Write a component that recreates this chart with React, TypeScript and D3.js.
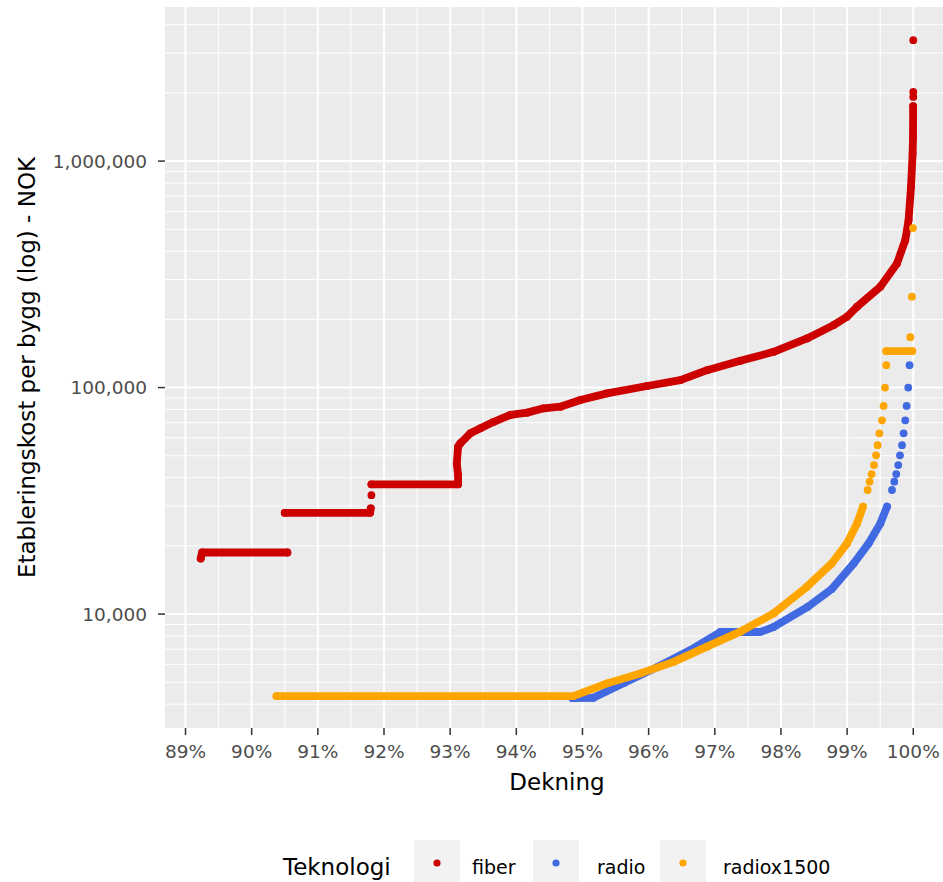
import { useMemo } from 'react';
import * as d3 from 'd3';

// coverage (%) vs. cost per building (NOK)
// each inner array is one unbroken run of points
const fiberRuns: [number, number][][] = [
  [[89.23, 17600], [89.25, 18700], [90.54, 18700]],
  [[90.5, 28000], [91.79, 28000], [91.8, 29300]],
  [[91.81, 33500]],
  [
    [91.81, 37400], [93.12, 37400], [93.12, 41100], [93.1, 46200], [93.12, 54800],
    [93.155, 56800], [93.306, 62800], [93.457, 66100], [93.659, 70600], [93.911, 75700],
    [94.163, 77500], [94.414, 81000], [94.666, 82300], [94.968, 88100], [95.372, 94300],
    [95.976, 101600], [96.48, 107900], [96.883, 119400], [97.386, 131300], [97.889, 143800],
    [98.394, 164800], [98.796, 188700], [98.998, 205600], [99.15, 227400], [99.502, 278800],
    [99.754, 353000], [99.879, 447600], [99.929, 549000], [99.966, 771000], [99.99, 1080000],
    [99.996, 1280000], [99.998, 1750000],
  ],
  [[100, 1920000]],
  [[100, 2020000]],
  [[100, 3420000]],
];

const radioRuns: [number, number][][] = [
  [
    [94.848, 4256], [95.165, 4270], [95.618, 4955], [96.132, 5836], [96.631, 6934],
    [97.084, 8335], [97.689, 8335], [97.885, 8763], [98.399, 10740], [98.767, 12890],
    [99.098, 16700], [99.325, 20500], [99.502, 25100], [99.603, 29800],
  ],
  [[99.678, 35300]], [[99.713, 38400]], [[99.743, 41500]], [[99.773, 45500]],
  [[99.799, 50200]], [[99.83, 55700]], [[99.854, 62800]], [[99.879, 71700]],
  [[99.899, 83000]], [[99.924, 100000]], [[99.944, 125600]],
];

const radiox1500Runs: [number, number][][] = [
  [
    [90.375, 4345], [94.86, 4345], [95.372, 4943], [95.875, 5470], [96.378, 6150],
    [96.883, 7180], [97.386, 8360], [97.889, 10070], [98.394, 13210], [98.768, 16740],
    [98.998, 20500], [99.15, 25100], [99.24, 29800],
  ],
  [[99.31, 35300]], [[99.34, 38400]], [[99.37, 41500]], [[99.406, 45500]],
  [[99.437, 50200]], [[99.461, 55700]], [[99.487, 62800]], [[99.527, 71700]],
  [[99.551, 83000]], [[99.572, 100000]], [[99.592, 125600]],
  [[99.592, 145000], [99.985, 145000]],
  [[99.955, 167000]], [[99.98, 252000]], [[99.995, 506000]],
];

const seriesNames = ['fiber', 'radio', 'radiox1500'];
const seriesColors = ['#CD0000', '#4169E1', '#FFA500'];
const seriesRuns = [fiberRuns, radioRuns, radiox1500Runs];

const xTicks = [89, 90, 91, 92, 93, 94, 95, 96, 97, 98, 99, 100];
const yTicks = [10000, 100000, 1000000];
const xDomain = [88.69, 100.54];
const yDomain = [3140, 4790000];

const W = 943;
const H = 882;
const FONT = '"DejaVu Sans", Verdana, sans-serif';

export default function App() {
  const m = { left: 165, top: 7, right: 949, bottom: 728 };
  const r = 3.9;

  const x = useMemo(() => d3.scaleLinear().domain(xDomain).range([m.left, m.right]), []);
  const y = useMemo(() => d3.scaleLog().domain(yDomain).range([m.bottom, m.top]), []);

  const line = d3.line<[number, number]>()
    .x(d => x(d[0]))
    .y(d => y(d[1]));

  // minor grid: 2..9 x 10^k on y, half steps on x
  const yMinor = y.ticks().filter(v => !yTicks.includes(v));
  const xMinor = d3.range(88.5, 101, 1).filter(v => v > xDomain[0] && v < xDomain[1]);
  const fmt = d3.format(',');

  // legend layout
  const keyX = [414, 533, 660];
  const labelX = [472, 597, 723];

  return (
    <svg width={W} height={H} style={{ position: 'absolute', left: 0, top: 0, background: '#fff' }}
      fontFamily={FONT}>
      <defs>
        <clipPath id="panel">
          <rect x={m.left} y={m.top} width={m.right - m.left} height={m.bottom - m.top} />
        </clipPath>
      </defs>
      <rect x={m.left} y={m.top} width={m.right - m.left} height={m.bottom - m.top} fill="#EBEBEB" />

      <g clipPath="url(#panel)">
        {yMinor.map(v => (
          <line key={'ym' + v} x1={m.left} x2={m.right} y1={y(v)} y2={y(v)} stroke="#fff" strokeWidth={1} />
        ))}
        {xMinor.map(v => (
          <line key={'xm' + v} x1={x(v)} x2={x(v)} y1={m.top} y2={m.bottom} stroke="#fff" strokeWidth={1} />
        ))}
        {yTicks.map(v => (
          <line key={'yM' + v} x1={m.left} x2={m.right} y1={y(v)} y2={y(v)} stroke="#fff" strokeWidth={2} />
        ))}
        {xTicks.map(v => (
          <line key={'xM' + v} x1={x(v)} x2={x(v)} y1={m.top} y2={m.bottom} stroke="#fff" strokeWidth={2} />
        ))}

        {seriesRuns.map((runs, si) => (
          <g key={seriesNames[si]} fill={seriesColors[si]} stroke={seriesColors[si]}>
            {runs.filter(run => run.length > 1).map((run, i) => (
              <path key={'p' + i} d={line(run) || ''} fill="none" strokeWidth={r * 2}
                strokeLinecap="round" strokeLinejoin="round" />
            ))}
            {runs.flat().map((d, i) => (
              <circle key={'c' + i} cx={x(d[0])} cy={y(d[1])} r={r} stroke="none" />
            ))}
          </g>
        ))}
      </g>

      {/* y axis */}
      {yTicks.map(v => (
        <g key={'yt' + v} transform={`translate(0,${y(v)})`}>
          <line x1={m.left - 7} x2={m.left} stroke="#333" strokeWidth={1.5} />
          <text x={m.left - 18} dy="0.36em" textAnchor="end" fontSize={18.5} fill="#4D4D4D">{fmt(v)}</text>
        </g>
      ))}
      {/* x axis */}
      {xTicks.map(v => (
        <g key={'xt' + v} transform={`translate(${x(v)},0)`}>
          <line y1={m.bottom} y2={m.bottom + 7} stroke="#333" strokeWidth={1.5} />
          <text y={758} textAnchor="middle" fontSize={18.5} fill="#4D4D4D">{v}%</text>
        </g>
      ))}

      <text x={(m.left + m.right) / 2} y={790} textAnchor="middle" fontSize={23} fill="#000">Dekning</text>
      <text transform={`translate(35,${(m.top + m.bottom) / 2}) rotate(-90)`} textAnchor="middle"
        fontSize={23} fill="#000">Etableringskost per bygg (log) - NOK</text>

      {/* legend */}
      <text x={283} y={875} fontSize={23} fill="#000">Teknologi</text>
      {seriesNames.map((name, i) => (
        <g key={'lg' + name}>
          <rect x={keyX[i]} y={840} width={46} height={46} fill="#F2F2F2" />
          <circle cx={keyX[i] + 23} cy={863} r={3.6} fill={seriesColors[i]} />
          <text x={labelX[i]} y={874} fontSize={19} fill="#000">{name}</text>
        </g>
      ))}
    </svg>
  );
}
